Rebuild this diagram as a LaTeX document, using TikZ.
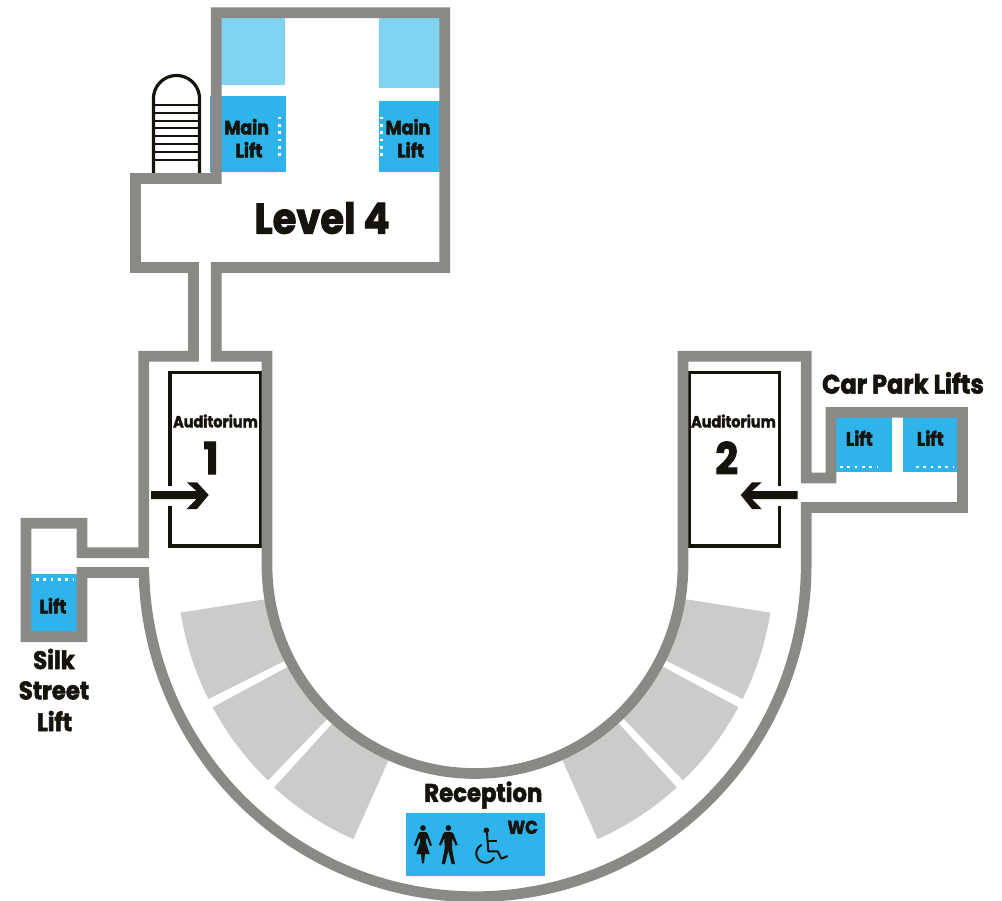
\documentclass[tikz,border=0pt]{standalone}
\usepackage{fontspec}
\setmainfont{Poppins}[BoldFont=* Bold,BoldFeatures={FakeStretch=0.9,FakeBold=2.2}]
\definecolor{wallc}{HTML}{8A8985}
\definecolor{liftc}{HTML}{2EB3EA}
\definecolor{paleliftc}{HTML}{81D3F2}
\definecolor{seatc}{HTML}{CBCBCA}
\definecolor{inkc}{HTML}{15130C}
\tikzset{
  wall/.style={draw=wallc,line width=8pt,miter limit=10},
  lift/.style={fill=liftc},
  palelift/.style={fill=paleliftc},
  seat/.style={fill=seatc},
  ink/.style={draw=inkc,line width=2.4pt},
  wdots/.style={draw=white,line width=1.9pt,dash pattern=on 2.1pt off 3.4pt},
  lab/.style={text=inkc,font=\bfseries,inner sep=0pt},
  mainlab/.style={lab,font=\bfseries\fontsize{14.5}{15}\selectfont},
  bigl/.style={lab,font=\bfseries\fontsize{19}{20}\selectfont},
  audlab/.style={lab,font=\bfseries\fontsize{12}{13}\selectfont},
  numlab/.style={lab,font=\bfseries\fontsize{33}{36}\selectfont},
  pict/.style={fill=inkc},
  wheel/.style={draw=inkc,line width=1.5pt,line join=round},
}
\newcommand{\seatwedge}[5]{% cx, a1, a2, r1, r2
  \fill[seat] plot[domain=#2:#3,samples=16] ({#1+#5*cos(\x)},{566+#5*sin(\x)})
    -- plot[domain=#3:#2,samples=16] ({#1+#4*cos(\x)},{566+#4*sin(\x)}) -- cycle;}
\begin{document}
\begin{tikzpicture}[x=0.75pt,y=-0.75pt]
\useasboundingbox (0,0) rectangle (1002,900);
% seats
\seatwedge{475}{153.5}{171}{205}{298}
\seatwedge{475}{134}{151.7}{205}{298}
\seatwedge{475}{114}{132.2}{205}{299}
\seatwedge{476}{9}{26.5}{205}{298}
\seatwedge{476}{28.3}{46}{205}{298}
\seatwedge{476}{47.8}{66}{205}{299}
% lifts
\fill[palelift] (221,18) rectangle (285,85);
\fill[palelift] (379,18) rectangle (440,88);
\fill[lift] (210,96) rectangle (286,172);
\fill[lift] (379,101) rectangle (440,172);
\fill[lift] (836,417) rectangle (892,472);
\fill[lift] (903,417) rectangle (958,472);
\fill[lift] (31,574) rectangle (77,632);
\fill[lift] (406,813) rectangle (545,876);
% dotted doors
\draw[wdots] (279.3,116.5) -- (279.3,159);
\draw[wdots] (381.7,116.5) -- (381.7,159);
\draw[wdots] (840,467) -- (878,467);
\draw[wdots] (916,467) -- (954,467);
\draw[wdots] (36,579.3) -- (73,579.3);
% stairs
\draw[ink] (153.5,174) -- (153.5,98.5) -- plot[domain=180:360,samples=40] ({176.5+23*cos(\x)},{98.5+23*sin(\x)}) -- (199.5,174);
\foreach \yy in {104.7,112.7,120.7,128.3,136,144,152,159.7}
  \draw[inkc,line width=1.5pt] (153.5,\yy) -- (199.5,\yy);
% auditorium boxes
\draw[ink] (170,486) -- (170,372.5) -- (260.5,372.5) -- (260.5,546) -- (170,546) -- (170,506);
\draw[ink] (779.3,486) -- (779.3,372.5) -- (689.5,372.5) -- (689.5,546) -- (779.3,546) -- (779.3,506);
% walls
\draw[wall] (193.5,361.5) -- (193.5,356.3) -- (143.8,356.3) -- (143.8,552.8) -- (82,552.8) -- (82,523.3) -- (26,523.3) -- (26,636.8) -- (82,636.8) -- (82,572.5) -- (143.8,572.5)
  -- plot[domain=178.4:0,samples=120] ({475+331.2*cos(\x)},{565.5+331.2*sin(\x)})
  -- (806.2,507.5) -- (962.5,507.5) -- (962.5,412.4) -- (831,412.4) -- (831,478) -- (806.2,478) -- (806.2,356.3) -- (683,356.3)
  -- (683,565.5) -- plot[domain=0:180,samples=120] ({475+208*cos(\x)},{565.5+208*sin(\x)})
  -- (267,356.3) -- (216.2,356.3) -- (216.2,267.5) -- (444.8,267.5) -- (444.8,12.8) -- (216.2,12.8) -- (216.2,178.5) -- (135.5,178.5) -- (135.5,267.5) -- (193.5,267.5) -- (193.5,361.5);
% arrows
\fill[inkc] (151,491) -- (196.5,491) -- (186.7,482.3) -- (197,482.3) -- (208.7,495) -- (197,509) -- (186.7,509) -- (196.5,499) -- (151,499) -- cycle;
\fill[inkc] (797.7,491) -- (752,491) -- (761.7,482.3) -- (752,482.3) -- (740.7,495) -- (752,509) -- (761.7,509) -- (752,499) -- (797.7,499) -- cycle;
% wc pictograms
\begin{scope}[shift={(410,818)},x=0.25pt,y=-0.25pt]
  % woman
  \fill[pict] (39,30) circle[radius=8.5];
  \fill[pict] (30,42) -- (48,42) -- (53,46) -- (66,82) -- (60,84) -- (50,58) -- (47,70) -- (59,108) -- (45,108) -- (42,136) -- (36,136) -- (33,108) -- (19,108) -- (31,70) -- (28,58) -- (18,84) -- (12,82) -- (25,46) -- cycle;
  % man
  \fill[pict] (115,30) circle[radius=8.5];
  \fill[pict] (106,42) -- (124,42) -- (130,46) -- (143,80) -- (137,83) -- (127,60) -- (126,92) -- (135,138) -- (125,138) -- (115,98) -- (105,138) -- (95,138) -- (104,92) -- (103,60) -- (93,83) -- (87,80) -- (100,46) -- cycle;
  % wheelchair
  \fill[pict] (229,37) circle[radius=8.5];
  \draw[wheel] (231,44) -- (235,100) -- (263,100) -- (274,122) -- (293,114);
  \draw[wheel] (233,70) -- (260,70);
  \draw[wheel] plot[domain=245:25,samples=40] ({227+28*cos(\x)},{106+28*sin(\x)});
\end{scope}
% labels
\node[lab,font=\bfseries\fontsize{32}{36}\selectfont] (level) at (322,218) {Level 4};
\node[mainlab] (m1a) at (246.7,126.7) {Main};
\node[mainlab] (m1b) at (249,149.7) {Lift};
\node[mainlab] (m2a) at (408,126.7) {Main};
\node[mainlab] (m2b) at (410.7,149.7) {Lift};
\node[audlab] (a1) at (215.5,421) {Auditorium};
\node[audlab] (a2) at (733.5,421) {Auditorium};
\node[numlab] (n1) at (211,458) {1};
\node[numlab] (n2) at (726.7,458) {2};
\node[mainlab] (l1) at (859.3,438) {Lift};
\node[mainlab] (l2) at (930.3,438) {Lift};
\node[bigl,font=\bfseries\fontsize{20}{21}\selectfont] (cp) at (903,383) {Car Park Lifts};
\node[mainlab] (l3) at (53,605.7) {Lift};
\node[bigl] (s1) at (54,659) {Silk};
\node[bigl] (s2) at (54,690.5) {Street};
\node[bigl] (s3) at (54.5,721) {Lift};
\node[bigl] (rec) at (483.3,795) {Reception};
\node[lab,font=\bfseries\fontsize{14}{14}\selectfont] (wc) at (522.7,827.3) {WC};
\end{tikzpicture}
\end{document}
